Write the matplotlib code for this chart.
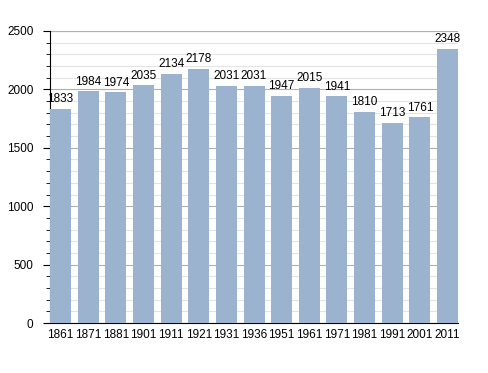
import numpy as np
import matplotlib.pyplot as plt
from matplotlib.ticker import MultipleLocator

years = ['1861', '1871', '1881', '1901', '1911', '1921', '1931', '1936',
         '1951', '1961', '1971', '1981', '1991', '2001', '2011']
population = [1833, 1984, 1974, 2035, 2134, 2178, 2031, 2031,
              1947, 2015, 1941, 1810, 1713, 1761, 2348]

plt.rcParams['font.family'] = ['Liberation Sans', 'DejaVu Sans']

fig = plt.figure(figsize=(4.88, 3.73), dpi=100)
ax = fig.add_axes([0.1025, 0.134, 0.836, 0.783])

x = np.arange(len(years))
ax.bar(x, population, width=0.76, color='#9bb3cf', zorder=3)
for xi, v in zip(x, population):
    ax.text(xi, v + 30, str(v), ha='center', va='bottom', fontsize=8.5, zorder=4)

ax.set_xlim(-0.38, len(years) - 1 + 0.38)
ax.set_ylim(0, 2500)
ax.set_xticks(x)
ax.set_xticklabels(years, fontsize=8.5)
ax.tick_params(axis='x', length=0, pad=4)
ax.yaxis.set_major_locator(MultipleLocator(500))
ax.yaxis.set_minor_locator(MultipleLocator(100))
ax.tick_params(axis='y', which='major', length=5, labelsize=8.5, pad=7)
ax.tick_params(axis='y', which='minor', length=3)
ax.grid(axis='y', which='major', color='#b0b0b0', lw=0.8, zorder=0)
ax.grid(axis='y', which='minor', color='#e4e4e4', lw=0.8, zorder=0)
ax.spines['top'].set_visible(False)
ax.spines['right'].set_visible(False)
ax.axhline(2500, color='#b0b0b0', lw=0.8, zorder=0)

fig.savefig('out.png', dpi=100)
